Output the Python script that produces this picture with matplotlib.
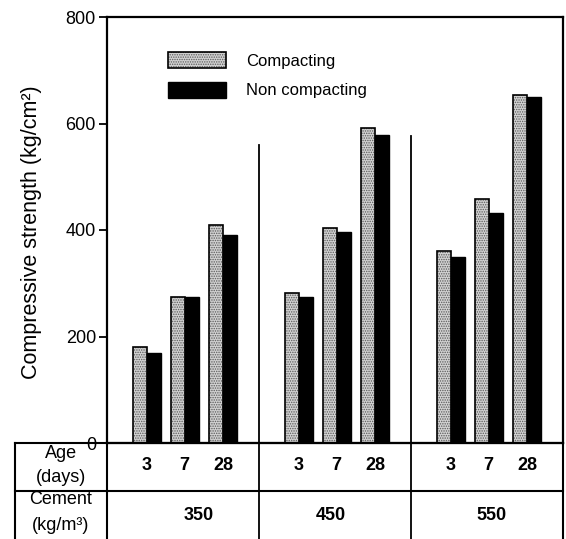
import matplotlib
matplotlib.use("Agg")
import matplotlib.pyplot as plt
from matplotlib.legend_handler import HandlerTuple

# ---- data ----
cement = ["350", "450", "550"]
ages = ["3", "7", "28"]
compacting = [[180, 274, 409], [282, 404, 592], [361, 458, 653]]
non_compacting = [[169, 274, 391], [275, 396, 578], [350, 432, 650]]
yticks = [0, 200, 400, 600, 800]
divider_tops = [560, 577]

plt.rcParams['font.family'] = ['Liberation Sans', 'DejaVu Sans']
plt.rcParams['hatch.linewidth'] = 0.7

W, H = 566, 539
fig = plt.figure(figsize=(W / 100, H / 100), dpi=100)
ax_l, ax_r, ax_t, ax_b = 107, 563, 17, 443
ax = fig.add_axes([ax_l / W, (H - ax_b) / H, (ax_r - ax_l) / W, (ax_b - ax_t) / H])

offsets = [0.26, 0.51, 0.765]
bw = 0.092
xs_c, xs_n, hc, hn = [], [], [], []
for g in range(len(cement)):
    for i in range(len(ages)):
        xs_c.append(g + offsets[i] - bw / 2)
        xs_n.append(g + offsets[i] + bw / 2)
        hc.append(compacting[g][i])
        hn.append(non_compacting[g][i])

fill = ax.bar(xs_c, hc, width=bw, color='#d2d2d2', hatch='.......',
              edgecolor='#5a5a5a', linewidth=0, zorder=2)
outl = ax.bar(xs_c, hc, width=bw, fill=False, edgecolor='black',
              linewidth=1.2, zorder=3)
dark = ax.bar(xs_n, hn, width=bw, color='black', edgecolor='black',
              linewidth=1.0, zorder=3)

ax.set_xlim(0, 3)
ax.set_ylim(0, 800)
ax.set_yticks(yticks)
ax.set_yticklabels([str(v) for v in yticks], fontsize=13)
ax.tick_params(axis='y', direction='out', length=6, width=1.3, pad=2)
ax.set_xticks([])
for s in ax.spines.values():
    s.set_linewidth(1.6)

# group dividers inside the plot
for g, top in zip([1, 2], divider_tops):
    ax.plot([g, g], [0, top], color='black', lw=1.3, zorder=1)

# legend
ax.legend([(fill[0], outl[0]), dark[0]], ['Compacting', 'Non compacting'],
          handler_map={tuple: HandlerTuple(ndivide=1, pad=0)},
          loc='upper left', bbox_to_anchor=(0.133, 0.917), frameon=False,
          fontsize=12, handlelength=3.5, handleheight=1.1,
          labelspacing=0.75, handletextpad=1.2, borderpad=0, borderaxespad=0)

# y label
fig.text(32 / W, 1 - 232 / H, 'Compressive strength (kg/cm²)', rotation=90,
         ha='center', va='center', fontsize=15.5)

# ---- table below the axes ----
tab_l, row1, row2, tab_b = 15, 443, 491, 539
def fx(px):
    return px / W
def fy(py):
    return 1 - py / H

lw = 1.5
fig.add_artist(plt.Line2D([fx(tab_l), fx(ax_r)], [fy(row1), fy(row1)], color='black', lw=lw))
fig.add_artist(plt.Line2D([fx(tab_l), fx(ax_r)], [fy(row2), fy(row2)], color='black', lw=lw))
for px in [tab_l, ax_l, ax_r]:
    fig.add_artist(plt.Line2D([fx(px), fx(px)], [fy(row1), fy(tab_b)], color='black', lw=lw))
for g in [1, 2]:
    px = ax_l + g * (ax_r - ax_l) / 3
    fig.add_artist(plt.Line2D([fx(px), fx(px)], [fy(row1), fy(tab_b)], color='black', lw=1.3))

def dx(x):
    return fx(ax_l + x * (ax_r - ax_l) / 3)

for g in range(len(cement)):
    for i, a in enumerate(ages):
        fig.text(dx(g + offsets[i]), fy(466), a, ha='center', va='center',
                 fontsize=13, fontweight='bold')
cement_pos = [0.6, 1.47, 2.53]
for c, p in zip(cement, cement_pos):
    fig.text(dx(p), fy(515), c, ha='center', va='center', fontsize=13,
             fontweight='bold')

fig.text(fx(61), fy(453), 'Age', ha='center', va='center', fontsize=13)
fig.text(fx(61), fy(477), '(days)', ha='center', va='center', fontsize=13)
fig.text(fx(61), fy(499), 'Cement', ha='center', va='center', fontsize=13)
fig.text(fx(61), fy(526), '(kg/m³)', ha='center', va='center', fontsize=13)

fig.savefig('out.png', dpi=100)
